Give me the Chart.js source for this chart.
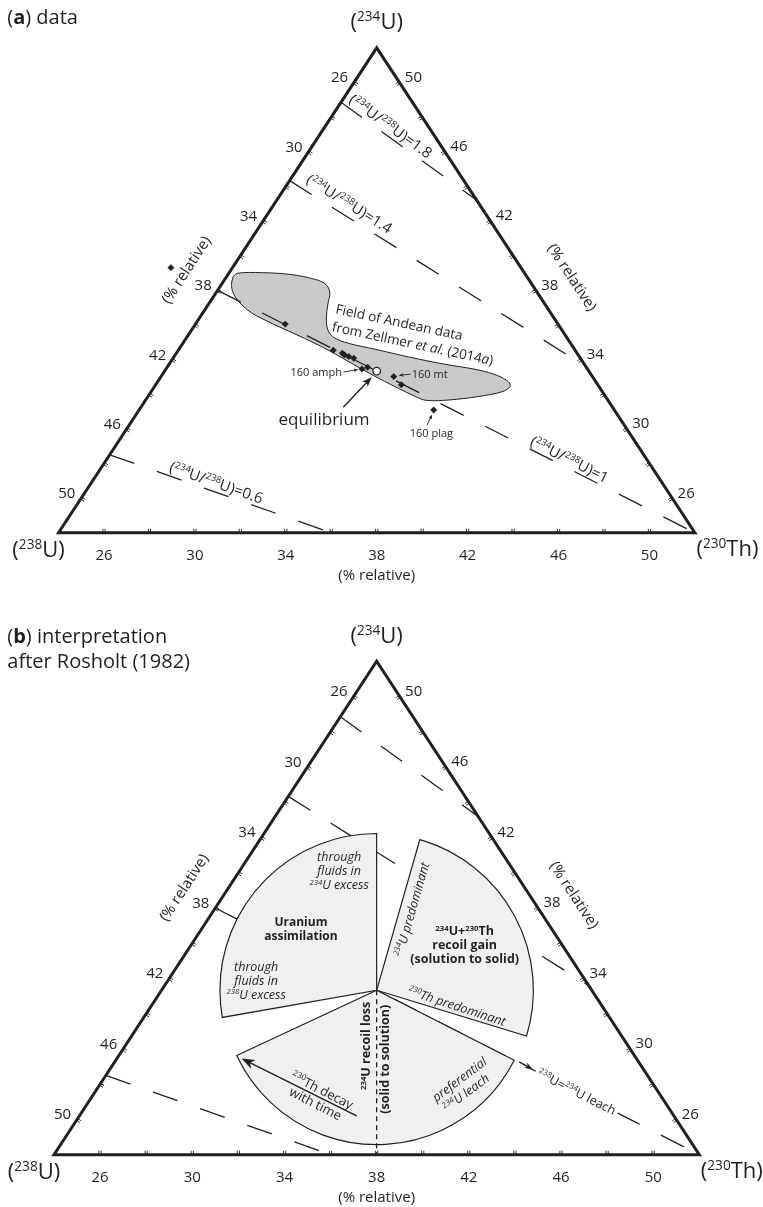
<!DOCTYPE html>
<html>
<head>
<meta charset="utf-8">
<script src="https://cdn.jsdelivr.net/npm/chart.js@4.4.1/dist/chart.umd.min.js"></script>
<style>
html, body { margin: 0; padding: 0; background: #fff; }
body { width: 763px; height: 1207px; position: relative; overflow: hidden; }
canvas { position: absolute; left: 0; }
#panelA { top: 0; }
#panelB { top: 618px; }
</style>
</head>
<body>
<canvas id="panelA" width="763" height="618"></canvas>
<canvas id="panelB" width="763" height="589"></canvas>
<script>
// ternary window: each activity runs from 24 to 52 % relative
const AXIS_MIN = 24;
const AXIS_SPAN = 28;
const tickValues = [26, 28, 30, 32, 34, 36, 38, 40, 42, 44, 46, 48, 50];
const tickLabels = [26, 30, 34, 38, 42, 46, 50];
const EQ = 100 / 3;

// samples (% relative); 160 amph = 7, 160 mt = 9, 160 plag = 11
const sampleU234  = [39.31, 36.05, 34.54, 34.37, 34.27, 34.18, 34.08, 33.46, 33.56, 33.02, 32.55, 31.09];
const sampleU238  = [39.40, 36.00, 34.64, 34.33, 34.28, 34.14, 33.97, 33.92, 33.62, 32.74, 32.64, 31.95];
const sampleTh230 = [21.29, 27.95, 30.82, 31.30, 31.45, 31.68, 31.95, 32.62, 32.82, 34.24, 34.81, 36.96];

// outline of the Andean field, Zellmer et al. (2014a)
const fieldU234  = [38.79, 38.99, 39.02, 38.91, 38.62, 38.34, 37.89, 37.15, 36.41, 35.73, 35.28, 34.94, 34.60, 34.14, 33.74,
                    33.40, 33.06, 32.72, 32.44, 32.15, 31.87, 31.67, 31.64, 31.81, 33.09, 34.77, 36.52, 37.15, 37.72, 38.28, 38.79];
const fieldTh230 = [24.28, 24.40, 25.43, 26.79, 28.01, 28.59, 28.99, 29.27, 29.58, 29.98, 30.47, 31.29, 32.63, 34.38, 36.09,
                    37.78, 38.82, 39.43, 39.65, 39.45, 38.55, 37.35, 36.41, 35.89, 33.30, 30.16, 26.46, 25.50, 24.87, 24.47, 24.28];

// (234U/238U) activity ratio lines
const ratioValues = [1.8, 1.4, 1, 0.6];

// Rosholt sectors round equilibrium: angles in degrees, radius in % relative
const sectorFrom   = [90, -17, 205];
const sectorTo     = [190, 74, 333];
const sectorRadius = [6.8, 6.8, 6.7];

const INK = '#231f20';
const FONT = '"Open Sans", "Noto Sans", sans-serif';

// layout of the triangle inside each canvas (pixels)
const LEFT_PX = 54, X_PX = 645.3, TOP_PX = 43.3, Y_PX = 493.4;

function xOf(u234, th230) { return (th230 - AXIS_MIN) / AXIS_SPAN + (u234 - AXIS_MIN) / (2 * AXIS_SPAN); }
function yOf(u234) { return (u234 - AXIS_MIN) / AXIS_SPAN; }
function pt(u234, th230) { return { x: xOf(u234, th230), y: yOf(u234) }; }
function toPx(chart, u234, th230) {
    return {
        x: chart.scales.x.getPixelForValue(xOf(u234, th230)),
        y: chart.scales.y.getPixelForValue(yOf(u234))
    };
}

function ratioEnds(r) {
    const u238 = (100 - AXIS_MIN) / (1 + r);
    const a = [r * u238, AXIS_MIN];
    const b = r >= 1 ? [AXIS_MIN * r, 100 - AXIS_MIN - AXIS_MIN * r]
                     : [AXIS_MIN, 100 - AXIS_MIN - AXIS_MIN / r];
    return [a, b];
}

function parseRich(str) {
    const runs = [];
    const re = /\^\{([^}]*)\}|\*\*([^*]*)\*\*|_\{([^}]*)\}|([^^*_]+)/g;
    let m;
    while ((m = re.exec(str))) {
        if (m[1] !== undefined) runs.push({ t: m[1], sup: true });
        else if (m[2] !== undefined) runs.push({ t: m[2], bold: true });
        else if (m[3] !== undefined) runs.push({ t: m[3], italic: true });
        else runs.push({ t: m[4] });
    }
    return runs;
}

function drawText(ctx, str, x, y, o = {}) {
    const size = o.size || 15;
    const runs = parseRich(str);
    const fontOf = r => `${(o.italic || r.italic) ? 'italic ' : ''}${(o.bold || r.bold) ? 'bold ' : ''}${r.sup ? size * 0.62 : size}px ${FONT}`;
    let w = 0;
    runs.forEach(r => { ctx.font = fontOf(r); r.w = ctx.measureText(r.t).width; w += r.w; });
    ctx.save();
    ctx.translate(x, y);
    if (o.angle) ctx.rotate(o.angle * Math.PI / 180);
    let cx = o.align === 'left' ? 0 : o.align === 'right' ? -w : -w / 2;
    const base = o.middle ? size * 0.36 : 0;
    if (o.bg) {
        ctx.fillStyle = '#fff';
        ctx.fillRect(cx - 3, base - size * 0.85, w + 6, size * 1.15);
    }
    ctx.fillStyle = INK;
    ctx.textAlign = 'left';
    ctx.textBaseline = 'alphabetic';
    runs.forEach(r => {
        ctx.font = fontOf(r);
        ctx.fillText(r.t, cx, base - (r.sup ? size * 0.37 : 0));
        cx += r.w;
    });
    ctx.restore();
}

function arrow(ctx, x1, y1, x2, y2, head, width) {
    const a = Math.atan2(y2 - y1, x2 - x1);
    const c = Math.cos(a), s = Math.sin(a);
    ctx.save();
    ctx.strokeStyle = INK;
    ctx.fillStyle = INK;
    ctx.lineWidth = width || 1.2;
    ctx.beginPath();
    ctx.moveTo(x1, y1);
    ctx.lineTo(x2 - head * 0.7 * c, y2 - head * 0.7 * s);
    ctx.stroke();
    ctx.beginPath();
    ctx.moveTo(x2, y2);
    ctx.lineTo(x2 - head * c + head * 0.38 * s, y2 - head * s - head * 0.38 * c);
    ctx.lineTo(x2 - head * 0.72 * c, y2 - head * 0.72 * s);
    ctx.lineTo(x2 - head * c - head * 0.38 * s, y2 - head * s + head * 0.38 * c);
    ctx.closePath();
    ctx.fill();
    ctx.restore();
}

// frame, ticks, tick labels and vertex labels, shared by both panels
const frameDecor = {
    id: 'frameDecor',
    afterDraw(chart) {
        const ctx = chart.ctx;
        const L = toPx(chart, AXIS_MIN, AXIS_MIN);
        const T = toPx(chart, AXIS_MIN + AXIS_SPAN, AXIS_MIN);
        const R = toPx(chart, AXIS_MIN, AXIS_MIN + AXIS_SPAN);
        const edges = [
            { a: L, b: T, at: v => toPx(chart, 100 - AXIS_MIN - v, AXIS_MIN), dx: -14.5, dy: -5.5 },
            { a: T, b: R, at: v => toPx(chart, v, 100 - AXIS_MIN - v), dx: 14, dy: -6 },
            { a: R, b: L, at: v => toPx(chart, AXIS_MIN, v), dx: 0, dy: 22 }
        ];
        ctx.save();
        ctx.strokeStyle = INK;
        ctx.lineWidth = 0.9;
        edges.forEach(e => {
            const len = Math.hypot(e.b.x - e.a.x, e.b.y - e.a.y);
            const ux = (e.b.x - e.a.x) / len, uy = (e.b.y - e.a.y) / len;
            const nx = -uy, ny = ux; // inward
            tickValues.forEach(v => {
                const p = e.at(v);
                [-1, 1].forEach(k => {
                    const bx = p.x + ux * k * 1.1, by = p.y + uy * k * 1.1;
                    ctx.beginPath();
                    ctx.moveTo(bx, by);
                    ctx.lineTo(bx + nx * 4, by + ny * 4);
                    ctx.stroke();
                });
            });
            tickLabels.forEach(v => {
                const p = e.at(v);
                drawText(ctx, String(v), p.x + e.dx, p.y + e.dy, { size: 15, middle: true });
            });
        });
        ctx.restore();

        // "(% relative)" along the three sides
        const midL = toPx(chart, 38, AXIS_MIN), midR = toPx(chart, 38, 38), midB = toPx(chart, AXIS_MIN, 38);
        const angL = Math.atan2(T.y - L.y, T.x - L.x) * 180 / Math.PI;
        const angR = Math.atan2(R.y - T.y, R.x - T.x) * 180 / Math.PI;
        drawText(ctx, '(% relative)', midL.x - 0.837 * 38, midL.y - 0.547 * 38, { size: 15, middle: true, angle: angL });
        drawText(ctx, '(% relative)', midR.x + 0.837 * 38 + 0.547 * 9, midR.y - 0.547 * 38 + 0.837 * 9, { size: 15, middle: true, angle: angR });
        drawText(ctx, '(% relative)', midB.x, midB.y + 41.6, { size: 15, middle: true });

        drawText(ctx, '(^{234}U)', T.x, T.y - 18.6, { size: 22 });
        drawText(ctx, '(^{238}U)', L.x - 20, L.y + 24.7, { size: 22 });
        drawText(ctx, '(^{230}Th)', R.x + 32.5, R.y + 23, { size: 22 });
    }
};

// where the ratio labels sit along their lines (fraction of length, baseline lift)
const ratioLabelAt = { 1.8: [0.325, 4.5], 1.4: [0.18, 7], 1: [0.729, 3.5], 0.6: [0.468, 4] };

const panelADecor = {
    id: 'panelADecor',
    afterDraw(chart) {
        const ctx = chart.ctx;
        drawText(ctx, '(**a**) data', 7.3, 23.5, { size: 20, align: 'left' });

        ratioValues.forEach(r => {
            const [a, b] = ratioEnds(r);
            const A = toPx(chart, a[0], a[1]), B = toPx(chart, b[0], b[1]);
            const ang = Math.atan2(B.y - A.y, B.x - A.x);
            const [t, lift] = ratioLabelAt[r];
            const x = A.x + (B.x - A.x) * t + Math.sin(ang) * lift;
            const y = A.y + (B.y - A.y) * t - Math.cos(ang) * lift;
            drawText(ctx, `(^{234}U/^{238}U)=${r}`, x, y, { size: 15, angle: ang * 180 / Math.PI });
        });

        const eq = toPx(chart, EQ, EQ);
        const p = i => toPx(chart, sampleU234[i], sampleTh230[i]);
        const amph = p(7), mt = p(9), plag = p(11);

        drawText(ctx, 'equilibrium', eq.x - 52.7, eq.y + 48, { size: 17, middle: true });
        arrow(ctx, eq.x - 33.4, eq.y + 36, eq.x - 5, eq.y + 6, 10, 1.4);

        drawText(ctx, '160 amph', amph.x - 20, amph.y + 3.3, { size: 11, middle: true, align: 'right' });
        arrow(ctx, amph.x - 18.5, amph.y + 3, amph.x - 3.5, amph.y + 0.6, 5, 0.9);
        drawText(ctx, '160 mt', mt.x + 18, mt.y - 2.7, { size: 11, middle: true, align: 'left' });
        arrow(ctx, mt.x + 17, mt.y - 2.5, mt.x + 5, mt.y - 1, 5, 0.9);
        drawText(ctx, '160 plag', plag.x - 2.3, plag.y + 22.6, { size: 11, middle: true });
        arrow(ctx, plag.x - 6.6, plag.y + 15, plag.x - 1.5, plag.y + 4.5, 5, 0.9);

        const fx = eq.x - 41.7, fy = eq.y - 57.8;
        drawText(ctx, 'Field of Andean data', fx, fy, { size: 13.5, align: 'left', angle: 12 });
        drawText(ctx, 'from Zellmer _{et al.} (2014_{a})', fx - 3.7, fy + 17.6, { size: 13.5, align: 'left', angle: 12 });
    }
};

const panelBDecor = {
    id: 'panelBDecor',
    afterDatasetsDraw(chart) {
        const ctx = chart.ctx;
        const c = toPx(chart, EQ, EQ);
        const unit = chart.scales.x.getPixelForValue(1 / AXIS_SPAN) - chart.scales.x.getPixelForValue(0);
        ctx.save();
        ctx.fillStyle = '#eff0f0';
        ctx.strokeStyle = INK;
        ctx.lineWidth = 1.2;
        ctx.lineJoin = 'miter';
        sectorFrom.forEach((a0, i) => {
            const r = sectorRadius[i] * unit;
            ctx.beginPath();
            ctx.moveTo(c.x, c.y);
            ctx.arc(c.x, c.y, r, -a0 * Math.PI / 180, -sectorTo[i] * Math.PI / 180, true);
            ctx.closePath();
            ctx.fill();
            ctx.stroke();
        });
        // 234U recoil loss direction: 238U = 230Th
        const foot = toPx(chart, AXIS_MIN, 38);
        ctx.setLineDash([5, 4]);
        ctx.lineWidth = 1.3;
        ctx.beginPath();
        ctx.moveTo(c.x, c.y);
        ctx.lineTo(foot.x, foot.y);
        ctx.stroke();
        ctx.restore();
    },
    afterDraw(chart) {
        const ctx = chart.ctx;
        const c = toPx(chart, EQ, EQ);
        drawText(ctx, '(**b**) interpretation', 7.3, 24.5, { size: 20, align: 'left' });
        drawText(ctx, 'after Rosholt (1982)', 7.3, 50, { size: 20, align: 'left' });

        arrow(ctx, c.x - 20, c.y + 125.7, c.x - 135, c.y + 68.3, 13, 1.4);
        arrow(ctx, c.x + 142.6, c.y + 71.7, c.x + 156, c.y + 79, 8, 1.4);

        const notes = [
            ['Uranium', -75.7, -68.5, { bold: true, size: 12 }],
            ['assimilation', -75.7, -55, { bold: true, size: 12 }],
            ['through', -37.5, -133.5, { italic: true, size: 12.5 }],
            ['fluids in', -37.5, -119.5, { italic: true, size: 12.5 }],
            ['^{234}U excess', -37.5, -105.5, { italic: true, size: 12.5 }],
            ['through', -120.5, -23.5, { italic: true, size: 12.5 }],
            ['fluids in', -120.5, -9.7, { italic: true, size: 12.5 }],
            ['^{238}U excess', -120.5, 4, { italic: true, size: 12.5 }],
            ['^{234}U+^{230}Th', 88, -59.5, { bold: true, size: 12.5 }],
            ['recoil gain', 88, -46, { bold: true, size: 12.5 }],
            ['(solution to solid)', 88, -32, { bold: true, size: 12.5 }],
            ['^{234}U predominant', 35, -81, { italic: true, size: 12.5, angle: -74 }],
            ['^{230}Th predominant', 80.3, 15.7, { italic: true, size: 12.5, angle: 18 }],
            ['^{234}U recoil loss', -10.7, 55.7, { bold: true, size: 12.5, angle: -90 }],
            ['(solid to solution)', 8.3, 69, { bold: true, size: 12.5, angle: -90 }],
            ['^{230}Th decay', -54.3, 99.8, { size: 13, angle: 27 }],
            ['with time', -61.1, 113.2, { size: 13, angle: 27 }],
            ['preferential', 82.6, 89, { italic: true, size: 12.5, angle: -37 }],
            ['^{234}U leach', 89.3, 102.3, { italic: true, size: 12.5, angle: -37 }],
            ['^{238}U=^{234}U leach', 200.1, 101.5, { size: 12.5, angle: 27, bg: true }]
        ];
        notes.forEach(([s, dx, dy, o]) => drawText(ctx, s, c.x + dx, c.y + dy, Object.assign({ middle: true }, o)));
    }
};

function frameDatasets() {
    const sets = [];
    ratioValues.forEach(r => {
        const [a, b] = ratioEnds(r);
        sets.push({
            data: [pt(a[0], a[1]), pt(b[0], b[1])],
            showLine: true, pointRadius: 0,
            borderColor: INK, borderWidth: 1.3, borderDash: [26, 24],
            order: 8
        });
    });
    sets.push({
        data: [pt(AXIS_MIN, AXIS_MIN), pt(AXIS_MIN + AXIS_SPAN, AXIS_MIN), pt(AXIS_MIN, AXIS_MIN + AXIS_SPAN),
               pt(AXIS_MIN, AXIS_MIN), pt(AXIS_MIN + AXIS_SPAN, AXIS_MIN)],
        showLine: true, pointRadius: 0,
        borderColor: INK, borderWidth: 3, borderJoinStyle: 'miter',
        order: 5
    });
    return sets;
}

function buildChart(id, height, datasets, plugins) {
    const yMax = 1 + TOP_PX / Y_PX;
    return new Chart(document.getElementById(id), {
        type: 'scatter',
        data: { datasets },
        options: {
            responsive: false,
            animation: false,
            events: [],
            layout: { padding: 0 },
            plugins: { legend: { display: false }, tooltip: { enabled: false } },
            scales: {
                x: { type: 'linear', display: false, min: -LEFT_PX / X_PX, max: (763 - LEFT_PX) / X_PX },
                y: { type: 'linear', display: false, min: yMax - height / Y_PX, max: yMax }
            }
        },
        plugins
    });
}

// Panel a
const setsA = frameDatasets();
setsA.push({
    data: fieldU234.map((u, i) => pt(u, fieldTh230[i])),
    showLine: true, pointRadius: 0, tension: 0.35,
    fill: 'shape', backgroundColor: '#c8c9cb',
    borderColor: INK, borderWidth: 1,
    order: 10
});
setsA.push({
    data: sampleU234.map((u, i) => pt(u, sampleTh230[i])),
    pointStyle: 'rectRot', pointRadius: 3.2,
    backgroundColor: INK, borderColor: INK, borderWidth: 0.5,
    order: 1
});
setsA.push({
    data: [pt(EQ, EQ)],
    pointStyle: 'circle', pointRadius: 3.8,
    backgroundColor: '#fff', borderColor: INK, borderWidth: 1.3,
    order: 0
});
buildChart('panelA', 618, setsA, [frameDecor, panelADecor]);

// Panel b
buildChart('panelB', 589, frameDatasets(), [panelBDecor, frameDecor]);
</script>
</body>
</html>
